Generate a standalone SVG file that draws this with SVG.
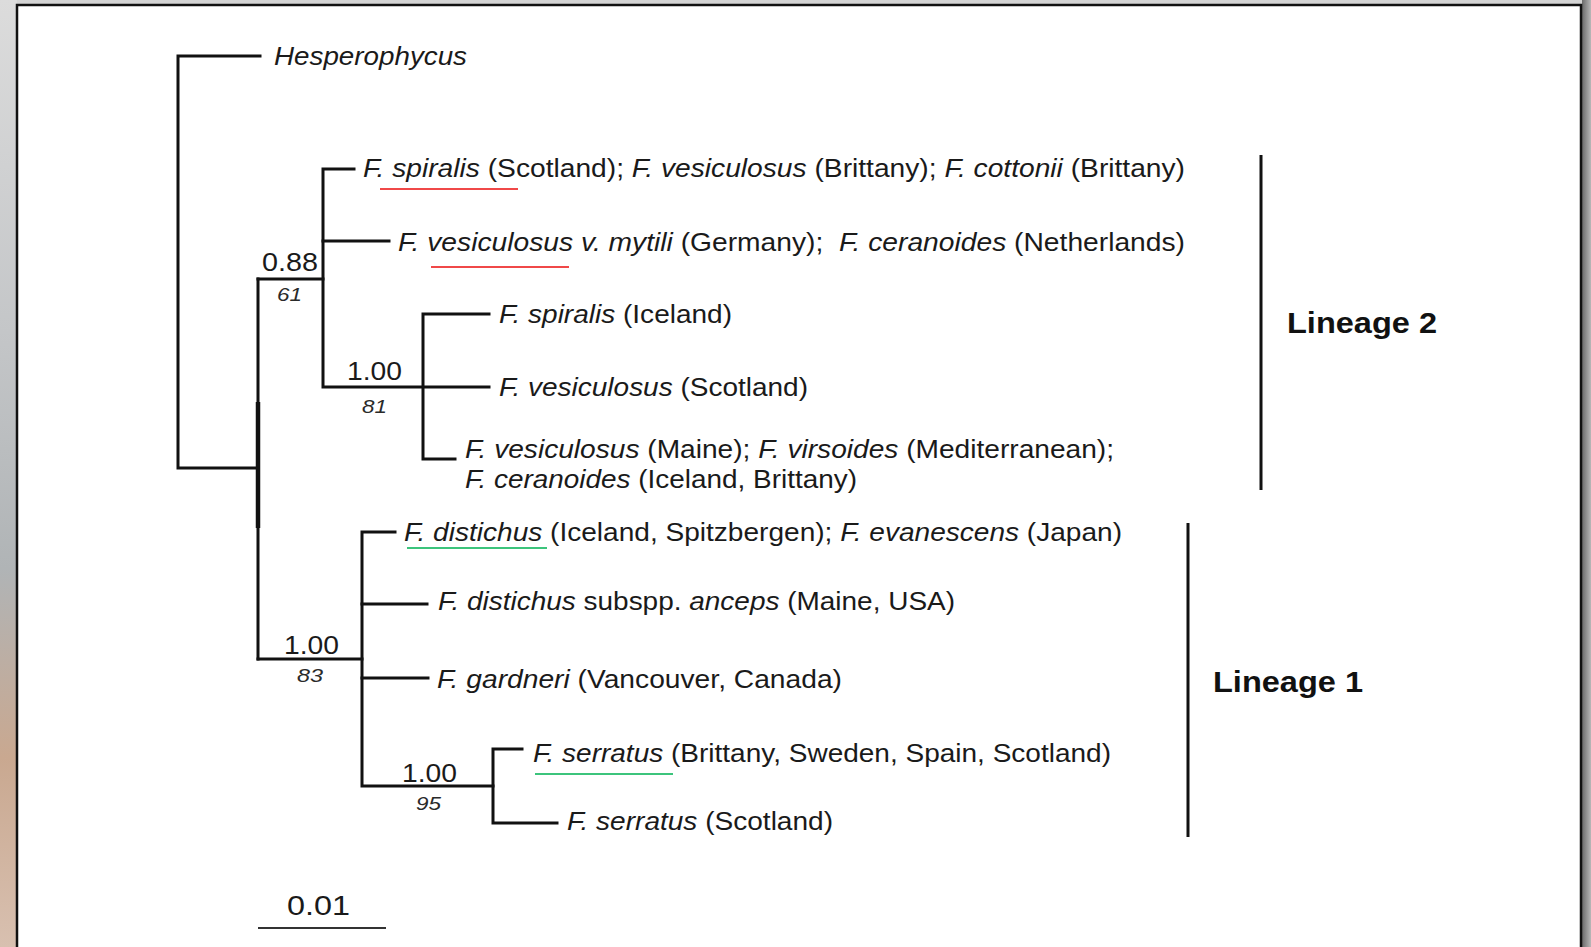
<svg xmlns="http://www.w3.org/2000/svg" width="1591" height="947" viewBox="0 0 1591 947">
  <defs>
    <linearGradient id="bgL" x1="0" y1="0" x2="0" y2="1">
      <stop offset="0" stop-color="#dcdcdc"/>
      <stop offset="0.35" stop-color="#c4c6c8"/>
      <stop offset="0.6" stop-color="#b0b4b6"/>
      <stop offset="0.8" stop-color="#c9a890"/>
      <stop offset="1" stop-color="#d8c0b0"/>
    </linearGradient>
    <linearGradient id="bgR" x1="0" y1="0" x2="1" y2="0">
      <stop offset="0" stop-color="#6a6a6a"/>
      <stop offset="1" stop-color="#b8b8b8"/>
    </linearGradient>
  </defs>
  <style>
    .br { stroke: #111; stroke-width: 3; fill: none; stroke-linecap: square; }
    .bar { stroke: #111; stroke-width: 3; fill: none; }
    .lab { font-family: "Liberation Sans", Arial, sans-serif; font-size: 25px; fill: #1a1a1a; }
    .it { font-style: italic; }
    .sup { font-family: "Liberation Sans", Arial, sans-serif; font-size: 25px; fill: #1a1a1a; }
    .boot { font-family: "Liberation Sans", Arial, sans-serif; font-size: 18px; font-style: italic; fill: #2a2a2a; }
    .lin { font-family: "Liberation Sans", Arial, sans-serif; font-size: 29px; font-weight: bold; fill: #111; }
    .scl { font-family: "Liberation Sans", Arial, sans-serif; font-size: 27px; fill: #1a1a1a; }
    .ulr { stroke: #f04848; stroke-width: 2; }
    .ulg { stroke: #3cc47c; stroke-width: 2; }
  </style>

  <!-- background -->
  <rect x="0" y="0" width="1591" height="947" fill="#d4d4d4"/>
  <rect x="0" y="0" width="17" height="947" fill="url(#bgL)"/>
  <rect x="1582" y="0" width="9" height="947" fill="url(#bgR)"/>
  <rect x="17" y="5" width="1564" height="950" fill="#ffffff" stroke="#111" stroke-width="2.5"/>

  <!-- connectors (tree branches) -->
  <g id="connectors">
    <path class="br" d="M260,56 H178 V468 H258"/>
    <path class="br" d="M258,279 V659"/>
    <path d="M258,402 V528" stroke="#111" stroke-width="4.5" fill="none"/>
    <path class="br" d="M258,279 H323"/>
    <path class="br" d="M354,169 H323 V387 H489"/>
    <path class="br" d="M323,241 H389"/>
    <path class="br" d="M489,314 H423 V459 H455"/>
    <path class="br" d="M258,659 H362"/>
    <path class="br" d="M395,532 H362 V786 H493"/>
    <path class="br" d="M362,604 H427"/>
    <path class="br" d="M362,678 H428"/>
    <path class="br" d="M522,749 H493 V823 H557"/>
  </g>

  <!-- support values -->
  <g id="support">
    <text class="sup" x="262" y="271" textLength="56" lengthAdjust="spacingAndGlyphs">0.88</text>
    <text class="boot" x="277" y="301" textLength="25" lengthAdjust="spacingAndGlyphs">61</text>
    <text class="sup" x="347" y="380" textLength="55" lengthAdjust="spacingAndGlyphs">1.00</text>
    <text class="boot" x="362" y="413" textLength="25" lengthAdjust="spacingAndGlyphs">81</text>
    <text class="sup" x="284" y="654" textLength="55" lengthAdjust="spacingAndGlyphs">1.00</text>
    <text class="boot" x="297" y="682" textLength="26" lengthAdjust="spacingAndGlyphs">83</text>
    <text class="sup" x="402" y="782" textLength="55" lengthAdjust="spacingAndGlyphs">1.00</text>
    <text class="boot" x="416" y="810" textLength="25" lengthAdjust="spacingAndGlyphs">95</text>
  </g>

  <!-- leaves -->
  <g id="leaf-hesperophycus">
    <text class="lab it" x="274" y="65" textLength="193" lengthAdjust="spacingAndGlyphs">Hesperophycus</text>
  </g>
  <g id="leaf-spiralis-scotland">
    <text class="lab" x="363" y="177" textLength="822" lengthAdjust="spacingAndGlyphs"><tspan class="it">F. spiralis</tspan> (Scotland); <tspan class="it">F. vesiculosus</tspan> (Brittany); <tspan class="it">F. cottonii</tspan> (Brittany)</text>
    <line class="ulr" x1="380" y1="189" x2="518" y2="189"/>
  </g>
  <g id="leaf-mytili">
    <text class="lab" x="398" y="251" textLength="787" lengthAdjust="spacingAndGlyphs" xml:space="preserve"><tspan class="it">F. vesiculosus v. mytili</tspan> (Germany);  <tspan class="it">F. ceranoides</tspan> (Netherlands)</text>
    <line class="ulr" x1="431" y1="267" x2="569" y2="267"/>
  </g>
  <g id="leaf-spiralis-iceland">
    <text class="lab" x="499" y="323" textLength="233" lengthAdjust="spacingAndGlyphs"><tspan class="it">F. spiralis</tspan> (Iceland)</text>
  </g>
  <g id="leaf-vesiculosus-scotland">
    <text class="lab" x="499" y="396" textLength="309" lengthAdjust="spacingAndGlyphs"><tspan class="it">F. vesiculosus</tspan> (Scotland)</text>
  </g>
  <g id="leaf-vesiculosus-maine">
    <text class="lab" x="465" y="458" textLength="649" lengthAdjust="spacingAndGlyphs"><tspan class="it">F. vesiculosus</tspan> (Maine); <tspan class="it">F. virsoides</tspan> (Mediterranean);</text>
    <text class="lab" x="465" y="488" textLength="392" lengthAdjust="spacingAndGlyphs"><tspan class="it">F. ceranoides</tspan> (Iceland, Brittany)</text>
  </g>
  <g id="leaf-distichus">
    <text class="lab" x="404" y="541" textLength="718" lengthAdjust="spacingAndGlyphs"><tspan class="it">F. distichus</tspan> (Iceland, Spitzbergen); <tspan class="it">F. evanescens</tspan> (Japan)</text>
    <line class="ulg" x1="407" y1="548" x2="547" y2="548"/>
  </g>
  <g id="leaf-anceps">
    <text class="lab" x="438" y="610" textLength="517" lengthAdjust="spacingAndGlyphs"><tspan class="it">F. distichus</tspan> subspp. <tspan class="it">anceps</tspan> (Maine, USA)</text>
  </g>
  <g id="leaf-gardneri">
    <text class="lab" x="437" y="688" textLength="405" lengthAdjust="spacingAndGlyphs"><tspan class="it">F. gardneri</tspan> (Vancouver, Canada)</text>
  </g>
  <g id="leaf-serratus-multi">
    <text class="lab" x="533" y="762" textLength="578" lengthAdjust="spacingAndGlyphs"><tspan class="it">F. serratus</tspan> (Brittany, Sweden, Spain, Scotland)</text>
    <line class="ulg" x1="535" y1="774" x2="673" y2="774"/>
  </g>
  <g id="leaf-serratus-scotland">
    <text class="lab" x="567" y="830" textLength="266" lengthAdjust="spacingAndGlyphs"><tspan class="it">F. serratus</tspan> (Scotland)</text>
  </g>

  <!-- lineage brackets -->
  <g id="lineage-2">
    <line class="bar" x1="1261" y1="155" x2="1261" y2="490"/>
    <text class="lin" x="1287" y="333" textLength="150" lengthAdjust="spacingAndGlyphs">Lineage 2</text>
  </g>
  <g id="lineage-1">
    <line class="bar" x1="1188" y1="523" x2="1188" y2="837"/>
    <text class="lin" x="1213" y="692" textLength="150" lengthAdjust="spacingAndGlyphs">Lineage 1</text>
  </g>

  <!-- scale bar -->
  <g id="scale-bar">
    <text class="scl" x="287" y="915" textLength="63" lengthAdjust="spacingAndGlyphs">0.01</text>
    <line x1="258" y1="928" x2="386" y2="928" stroke="#333" stroke-width="1.8"/>
  </g>
</svg>
